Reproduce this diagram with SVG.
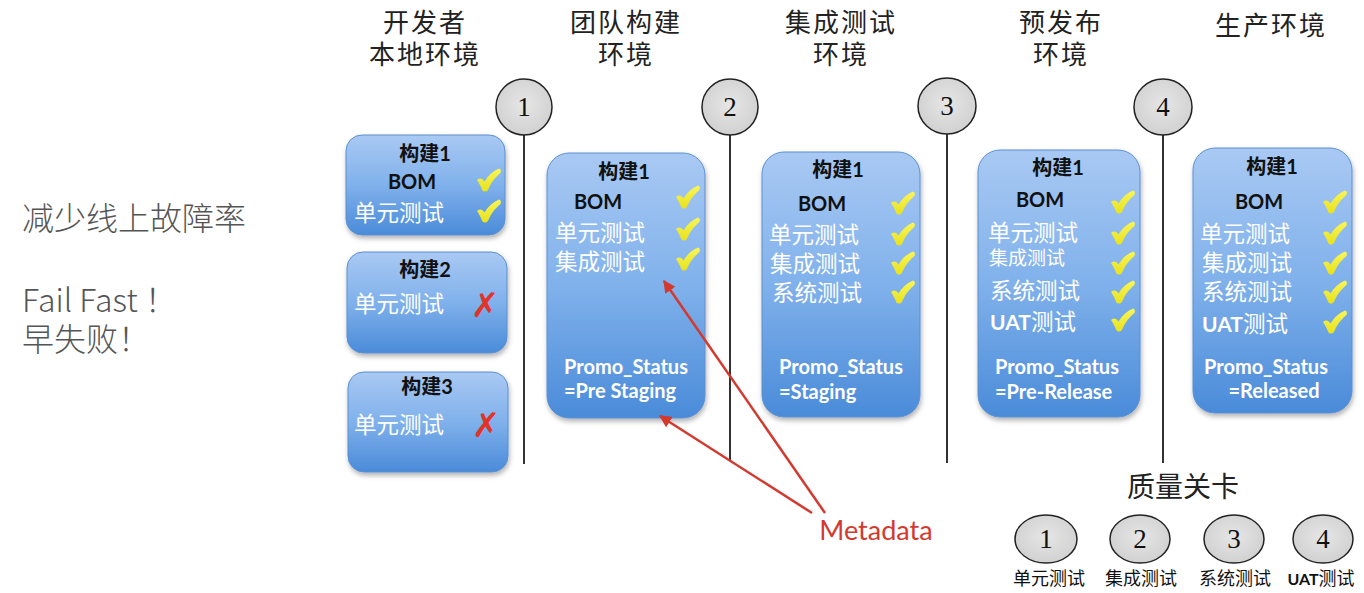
<svg xmlns="http://www.w3.org/2000/svg" width="1364" height="593" viewBox="0 0 1364 593">
<defs>
<linearGradient id="boxg" x1="0" y1="0" x2="0" y2="1">
<stop offset="0" stop-color="#a9c9f3"/>
<stop offset="0.5" stop-color="#80b1eb"/>
<stop offset="1" stop-color="#4a8bd9"/>
</linearGradient>
<linearGradient id="ckg" x1="0" y1="0" x2="0" y2="1">
<stop offset="0" stop-color="#f8f55a"/>
<stop offset="1" stop-color="#e8e21c"/>
</linearGradient>
<radialGradient id="circg" cx="0.5" cy="0.45" r="0.6">
<stop offset="0" stop-color="#e6e6e6"/>
<stop offset="1" stop-color="#cfcfcf"/>
</radialGradient>
<filter id="shadow" x="-10%" y="-10%" width="125%" height="125%">
<feDropShadow dx="1" dy="3" stdDeviation="2.5" flood-color="#000" flood-opacity="0.3"/>
</filter>
<path id="check" d="M0,11 C3,8.5 5.5,9.5 7.5,12.5 C11,6.5 16,2 22,-0.5 C24,0.2 24.6,2.6 23.2,4.2 C17.5,9 14,14 11,20.8 C10,23 6.6,23.2 5.2,21 C3.8,17.4 2,14 0,11 Z" fill="url(#ckg)"/>
<marker id="redArrow" viewBox="0 0 10 10" refX="9" refY="5" markerWidth="5" markerHeight="5" orient="auto-start-reverse" markerUnits="strokeWidth">
<path d="M0,0 L10,5 L0,10 z" fill="#d3392f"/>
</marker>
<style>
.hdr{font-family:"Noto Sans CJK SC",sans-serif;font-size:26px;letter-spacing:2px;fill:#222;text-anchor:middle}
.box{fill:url(#boxg);stroke:#5a8fd2;stroke-width:1;filter:url(#shadow)}
.ttl{font-family:"Lato","Noto Sans CJK SC",sans-serif;font-weight:bold;font-size:20px;fill:#111;text-anchor:middle}
.bom{font-family:"Lato","Noto Sans CJK SC",sans-serif;font-weight:bold;font-size:20px;fill:#111;text-anchor:middle}
.wt{font-family:"Noto Sans CJK SC",sans-serif;font-size:22.5px;fill:#fff}
.wts{font-family:"Noto Sans CJK SC",sans-serif;font-size:19px;fill:#fff}
.ps{font-family:"Lato","Noto Sans CJK SC",sans-serif;font-weight:bold;font-size:20px;fill:#fff}
.uat{font-family:"Lato","Noto Sans CJK SC",sans-serif;font-weight:bold;font-size:21px;fill:#fff}
.xx{font-family:"DejaVu Sans",sans-serif;font-size:34px;fill:#e0332a;text-anchor:middle;font-weight:bold}
.gate{fill:url(#circg);stroke:#222;stroke-width:1.5}
.num{font-family:"Liberation Serif",serif;font-size:27px;fill:#111;text-anchor:middle}
.vline{stroke:#333;stroke-width:2}
.side{font-family:"Noto Sans CJK SC",sans-serif;font-size:32px;fill:#555;font-weight:300}
.glbl{font-family:"Noto Sans CJK SC",sans-serif;font-size:18px;fill:#111;text-anchor:middle}
.red{stroke:#d3392f;stroke-width:2.5;fill:none}
</style>
</defs>
<rect width="1364" height="593" fill="#fff"/>

<g id="side-text">
<text class="side" x="22" y="230">减少线上故障率</text>
<text class="side" x="22" y="312">Fail Fast ！</text>
<text class="side" x="22" y="351">早失败！</text>
</g>

<g id="headers">
<text class="hdr" x="425" y="32">开发者</text>
<text class="hdr" x="425" y="64">本地环境</text>
<text class="hdr" x="626" y="32">团队构建</text>
<text class="hdr" x="626" y="64">环境</text>
<text class="hdr" x="841" y="32">集成测试</text>
<text class="hdr" x="841" y="64">环境</text>
<text class="hdr" x="1061" y="32">预发布</text>
<text class="hdr" x="1061" y="64">环境</text>
<text class="hdr" x="1271" y="35">生产环境</text>
</g>

<g id="gate-lines">
<line class="vline" x1="524" y1="134" x2="524" y2="464"/>
<line class="vline" x1="730" y1="134" x2="730" y2="460"/>
<line class="vline" x1="947" y1="134" x2="947" y2="463"/>
<line class="vline" x1="1163" y1="134" x2="1163" y2="463"/>
</g>

<g id="gate-1"><ellipse class="gate" cx="524" cy="107" rx="28" ry="28"/><text class="num" x="524" y="116">1</text></g>
<g id="gate-2"><ellipse class="gate" cx="730" cy="107" rx="28" ry="28"/><text class="num" x="730" y="116">2</text></g>
<g id="gate-3"><ellipse class="gate" cx="947" cy="106" rx="29" ry="28"/><text class="num" x="947" y="115">3</text></g>
<g id="gate-4"><ellipse class="gate" cx="1163" cy="107" rx="29" ry="28"/><text class="num" x="1163" y="116">4</text></g>

<g id="dev-build1">
<rect class="box" x="346" y="135" width="159" height="100" rx="16"/>
<text class="ttl" x="425" y="161">构建1</text>
<text class="bom" x="412" y="189">BOM</text>
<text class="wt" x="354" y="221">单元测试</text>
<use href="#check" x="477" y="169"/>
<use href="#check" x="477" y="200"/>
</g>
<g id="dev-build2">
<rect class="box" x="347" y="252" width="160" height="101" rx="16"/>
<text class="ttl" x="425" y="277">构建2</text>
<text class="wt" x="354" y="312">单元测试</text>
<text class="xx" x="485" y="317">✗</text>
</g>
<g id="dev-build3">
<rect class="box" x="348" y="372" width="160" height="100" rx="16"/>
<text class="ttl" x="427" y="394">构建3</text>
<text class="wt" x="354" y="433">单元测试</text>
<text class="xx" x="486" y="437">✗</text>
</g>

<g id="team-build">
<rect class="box" x="547" y="153" width="158" height="265" rx="22"/>
<text class="ttl" x="624" y="179">构建1</text>
<text class="bom" x="598" y="209">BOM</text>
<text class="wt" x="555" y="241">单元测试</text>
<text class="wt" x="555" y="270">集成测试</text>
<use href="#check" x="676" y="186"/>
<use href="#check" x="676" y="218"/>
<use href="#check" x="676" y="248"/>
<text class="ps" x="564" y="374">Promo_Status</text>
<text class="ps" x="564" y="398">=Pre Staging</text>
</g>

<g id="integration-build">
<rect class="box" x="762" y="152" width="158" height="265" rx="22"/>
<text class="ttl" x="838" y="177">构建1</text>
<text class="bom" x="822" y="211">BOM</text>
<text class="wt" x="769" y="243">单元测试</text>
<text class="wt" x="770" y="272">集成测试</text>
<text class="wt" x="772" y="301">系统测试</text>
<use href="#check" x="891" y="192"/>
<use href="#check" x="891" y="223"/>
<use href="#check" x="891" y="252"/>
<use href="#check" x="891" y="281"/>
<text class="ps" x="779" y="374">Promo_Status</text>
<text class="ps" x="779" y="399">=Staging</text>
</g>

<g id="prerelease-build">
<rect class="box" x="978" y="150" width="162" height="267" rx="22"/>
<text class="ttl" x="1058" y="175">构建1</text>
<text class="bom" x="1040" y="207">BOM</text>
<text class="wt" x="988" y="241">单元测试</text>
<text class="wts" x="989" y="265">集成测试</text>
<text class="wt" x="990" y="299">系统测试</text>
<text class="uat" x="990" y="330">UAT<tspan class="wt" style="font-weight:normal">测试</tspan></text>
<use href="#check" x="1111" y="191"/>
<use href="#check" x="1111" y="222"/>
<use href="#check" x="1111" y="252"/>
<use href="#check" x="1111" y="281"/>
<use href="#check" x="1111" y="309"/>
<text class="ps" x="995" y="374">Promo_Status</text>
<text class="ps" x="995" y="399">=Pre-Release</text>
</g>

<g id="prod-build">
<rect class="box" x="1193" y="148" width="159" height="265" rx="22"/>
<text class="ttl" x="1272" y="174">构建1</text>
<text class="bom" x="1259" y="209">BOM</text>
<text class="wt" x="1200" y="242">单元测试</text>
<text class="wt" x="1202" y="271">集成测试</text>
<text class="wt" x="1202" y="300">系统测试</text>
<text class="uat" x="1202" y="332">UAT<tspan class="wt" style="font-weight:normal">测试</tspan></text>
<use href="#check" x="1323" y="191"/>
<use href="#check" x="1323" y="222"/>
<use href="#check" x="1323" y="252"/>
<use href="#check" x="1323" y="281"/>
<use href="#check" x="1323" y="311"/>
<text class="ps" x="1204" y="374">Promo_Status</text>
<text class="ps" x="1274" y="398" text-anchor="middle">=Released</text>
</g>

<g id="connectors">
<line class="red" x1="825" y1="513" x2="664" y2="281" marker-end="url(#redArrow)"/>
<line class="red" x1="812" y1="513" x2="660" y2="416" marker-end="url(#redArrow)"/>
</g>

<g id="metadata-label">
<text x="876" y="540" text-anchor="middle" style="font-family:'Lato',sans-serif;font-size:27px;fill:#d3392f">Metadata</text>
</g>

<g id="legend">
<text class="hdr" x="1183" y="497" style="font-size:28px;letter-spacing:0">质量关卡</text>
<g id="legend-1"><ellipse class="gate" cx="1046" cy="539" rx="31" ry="24"/><text class="num" x="1046" y="548">1</text><text class="glbl" x="1049" y="585">单元测试</text></g>
<g id="legend-2"><ellipse class="gate" cx="1140" cy="539" rx="30" ry="24"/><text class="num" x="1140" y="548">2</text><text class="glbl" x="1141" y="585">集成测试</text></g>
<g id="legend-3"><ellipse class="gate" cx="1234" cy="539" rx="30" ry="24"/><text class="num" x="1234" y="548">3</text><text class="glbl" x="1235" y="585">系统测试</text></g>
<g id="legend-4"><ellipse class="gate" cx="1323" cy="539" rx="30" ry="24"/><text class="num" x="1323" y="548">4</text><text class="glbl" x="1321" y="585"><tspan style="font-family:'Lato',sans-serif;font-weight:bold;font-size:16px">UAT</tspan>测试</text></g>
</g>
</svg>
